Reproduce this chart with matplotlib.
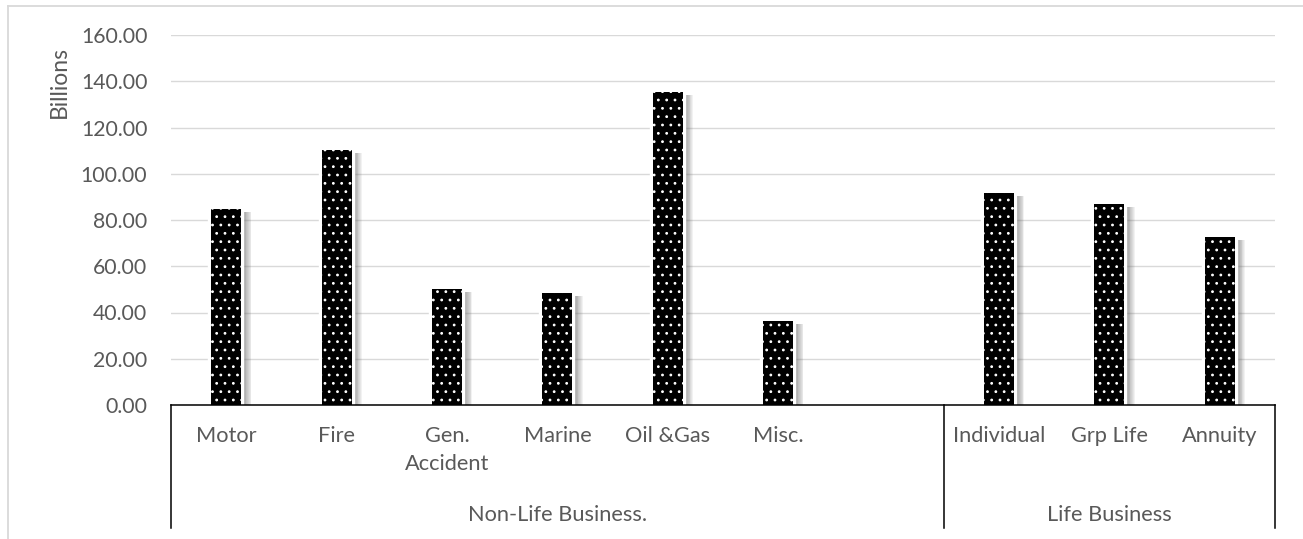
import numpy as np
import matplotlib
matplotlib.use("Agg")
import matplotlib.pyplot as plt
import matplotlib.patheffects as pe
from matplotlib.lines import Line2D
from matplotlib.transforms import blended_transform_factory

# Premium income by class of business (billions)
nonlife_labels = ["Motor", "Fire", "Gen.\nAccident", "Marine", "Oil &Gas", "Misc."]
nonlife_values = [84.8, 110.3, 50.0, 48.6, 135.2, 36.3]
life_labels = ["Individual", "Grp Life", "Annuity"]
life_values = [91.5, 86.9, 72.8]
group_names = ["Non-Life Business.", "Life Business"]
group_slots = [7, 3]          # the non-life group carries one empty slot
y_ticks = [0, 20, 40, 60, 80, 100, 120, 140, 160]

W, H = 1303, 539
TEXT = "#595959"
GRID = "#d9d9d9"
plt.rcParams["font.family"] = ["Lato", "DejaVu Sans"]
plt.rcParams["hatch.linewidth"] = 0.8

fig = plt.figure(figsize=(W / 100, H / 100), dpi=100)
ax = fig.add_axes([171 / W, (H - 405) / H, (1275 - 171) / W, (405 - 35) / H])

# slot positions
starts = np.cumsum([0] + group_slots[:-1])
x_nonlife = starts[0] + np.arange(len(nonlife_values))
x_life = starts[1] + np.arange(len(life_values))
positions = np.concatenate([x_nonlife, x_life])
values = nonlife_values + life_values
labels = nonlife_labels + life_labels
n_slots = sum(group_slots)

# soft shadow + white halo behind the dotted bars
effects = []
for dx in (2.6, 3.2, 3.8, 4.4, 5.0, 5.6, 6.2, 6.8, 7.4):
    effects.append(pe.SimplePatchShadow(offset=(dx, -2.2), shadow_rgbFace="#707070",
                                        alpha=0.09, hatch=None))
effects += [pe.Stroke(linewidth=4.6, foreground="white", hatch=None), pe.Normal()]

bars = ax.bar(positions, values, width=0.27, color="black", edgecolor="white",
              linewidth=0, hatch="..", zorder=2)
for b in bars:
    b.set_path_effects(effects)

ax.set_xlim(-0.5, n_slots - 0.5)
ax.set_ylim(0, 160)
ax.set_yticks(y_ticks)
ax.set_yticklabels([f"{v:.2f}" for v in y_ticks])
ax.yaxis.grid(True, color=GRID, linewidth=1.0, zorder=0)
ax.set_axisbelow(True)
ax.tick_params(axis="y", length=0, pad=17, labelsize=15.3, labelcolor=TEXT)
ax.tick_params(axis="x", length=0, pad=15, labelsize=15.7, labelcolor=TEXT)
ax.set_xticks(positions)
ax.set_xticklabels(labels, va="top", linespacing=1.5)

for side in ("top", "left", "right"):
    ax.spines[side].set_visible(False)
ax.spines["bottom"].set_color("black")
ax.spines["bottom"].set_linewidth(1.1)
ax.spines["bottom"].set_zorder(5)

# two-level category axis: separators and group captions
trans = blended_transform_factory(ax.transData, ax.transAxes)
depth = -(528 - 405) / (405 - 35)
bounds = np.concatenate([[0], np.cumsum(group_slots)]) - 0.5
for xb in bounds:
    ax.add_line(Line2D([xb, xb], [0, depth], transform=trans, color="black",
                       linewidth=1.1, clip_on=False))
for name, lo, hi in zip(group_names, bounds[:-1], bounds[1:]):
    ax.text((lo + hi) / 2, -(515 - 405) / (405 - 35), name, transform=trans,
            ha="center", va="center", fontsize=15.7, color=TEXT)

fig.text(59 / W, 1 - 82 / H, "Billions", rotation=90, ha="center", va="center",
         fontsize=16.5, color=TEXT)

# chart frame
fig.add_artist(Line2D([8 / W, 8 / W], [0, 1 - 6 / H], transform=fig.transFigure,
                      color=GRID, linewidth=1.3))
fig.add_artist(Line2D([8 / W, 1], [1 - 6 / H, 1 - 6 / H], transform=fig.transFigure,
                      color=GRID, linewidth=1.3))

fig.savefig("out.png", dpi=100, facecolor="white")
